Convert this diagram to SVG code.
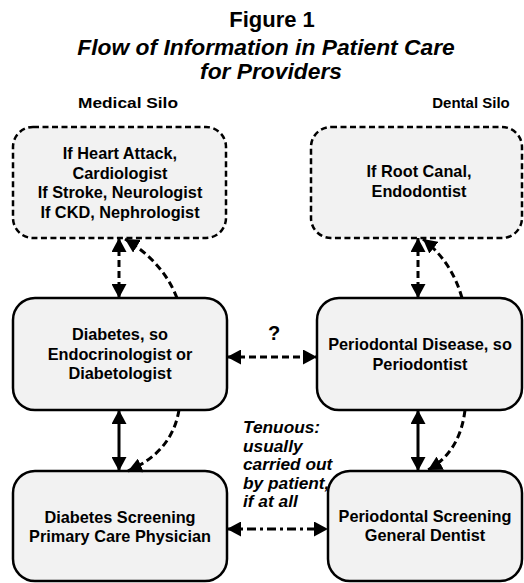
<svg xmlns="http://www.w3.org/2000/svg" width="524" height="583" viewBox="0 0 524 583">
<style>
text{font-family:"Liberation Sans",Arial,sans-serif;font-weight:bold;fill:#000}
.title{font-size:22px;text-anchor:middle}
.ital{font-style:italic;font-size:22.8px}
.silo{font-size:15px;text-anchor:middle}
.lbl{font-size:16.3px;text-anchor:middle}
.note{font-size:17.3px;font-style:italic}
.box{fill:#f2f2f2;stroke:#000;stroke-width:2.5}
.dbox{fill:#f2f2f2;stroke:#000;stroke-width:2.5;stroke-dasharray:6 3.5}
.c{fill:none;stroke:#000;stroke-width:3}
.d{stroke-dasharray:7 4}
.dd{stroke-dasharray:9 4 3 4}
</style>
<defs>
<marker id="ah" markerUnits="userSpaceOnUse" markerWidth="15" markerHeight="15" refX="14" refY="7.5" orient="auto-start-reverse" viewBox="0 0 15 15">
<path d="M0,0 L14,7.5 L0,15 z" fill="#000"/>
</marker>
</defs>
<g id="title">
<text class="title" x="272" y="27">Figure 1</text>
<text class="title ital" x="266" y="55">Flow of Information in Patient Care</text>
<text class="title ital" x="271" y="79">for Providers</text>
<text class="silo" x="128" y="108" textLength="100" lengthAdjust="spacingAndGlyphs">Medical Silo</text>
<text class="silo" x="471" y="108">Dental Silo</text>
</g>
<g id="specialists-medical">
<rect class="dbox" x="13" y="127" width="213" height="111" rx="20"/>
<text class="lbl" x="120" y="159">If Heart Attack,</text>
<text class="lbl" x="120" y="178.5">Cardiologist</text>
<text class="lbl" x="120" y="198">If Stroke, Neurologist</text>
<text class="lbl" x="120" y="217.5">If CKD, Nephrologist</text>
</g>
<g id="specialists-dental">
<rect class="dbox" x="311" y="127" width="211" height="111" rx="20"/>
<text class="lbl" x="419" y="177">If Root Canal,</text>
<text class="lbl" x="419" y="197">Endodontist</text>
</g>
<g id="diabetes">
<rect class="box" x="13" y="298" width="214" height="112" rx="22"/>
<text class="lbl" x="120" y="340">Diabetes, so</text>
<text class="lbl" x="120" y="359.5">Endocrinologist or</text>
<text class="lbl" x="120" y="379">Diabetologist</text>
</g>
<g id="periodontal">
<rect class="box" x="317" y="298" width="205" height="112" rx="22"/>
<text class="lbl" x="420" y="350">Periodontal Disease, so</text>
<text class="lbl" x="420" y="369.5">Periodontist</text>
</g>
<g id="diabetes-screening">
<rect class="box" x="13" y="471" width="214" height="110" rx="22"/>
<text class="lbl" x="120" y="523">Diabetes Screening</text>
<text class="lbl" x="120" y="542">Primary Care Physician</text>
</g>
<g id="periodontal-screening">
<rect class="box" x="328" y="471" width="194" height="110" rx="22"/>
<text class="lbl" x="425" y="522">Periodontal Screening</text>
<text class="lbl" x="425" y="541">General Dentist</text>
</g>
<g id="connectors">
<line class="c d" x1="119" y1="238" x2="119" y2="298" marker-start="url(#ah)" marker-end="url(#ah)"/>
<path class="c d" d="M177,298 Q163,262 125,239" marker-end="url(#ah)"/>
<line class="c d" x1="418" y1="238" x2="418" y2="298" marker-start="url(#ah)" marker-end="url(#ah)"/>
<path class="c d" d="M462,298 Q452,262 423,239" marker-end="url(#ah)"/>
<line class="c d" x1="227" y1="357" x2="317" y2="357" marker-start="url(#ah)" marker-end="url(#ah)"/>
<text x="274" y="340" style="font-size:20px;text-anchor:middle">?</text>
<line class="c" x1="119" y1="410" x2="119" y2="471" marker-start="url(#ah)" marker-end="url(#ah)"/>
<path class="c d" d="M179,410 Q172,452 128,471" marker-end="url(#ah)"/>
<line class="c" x1="418" y1="410" x2="418" y2="471" marker-start="url(#ah)" marker-end="url(#ah)"/>
<path class="c d" d="M465,410 Q460,452 428,470" marker-end="url(#ah)"/>
<line class="c dd" x1="227" y1="529" x2="328" y2="529" marker-start="url(#ah)" marker-end="url(#ah)"/>
</g>
<g id="note">
<text class="note" x="243" y="433">Tenuous:</text>
<text class="note" x="243" y="451.5">usually</text>
<text class="note" x="243" y="470">carried out</text>
<text class="note" x="243" y="488.5">by patient,</text>
<text class="note" x="243" y="507">if at all</text>
</g>
</svg>
